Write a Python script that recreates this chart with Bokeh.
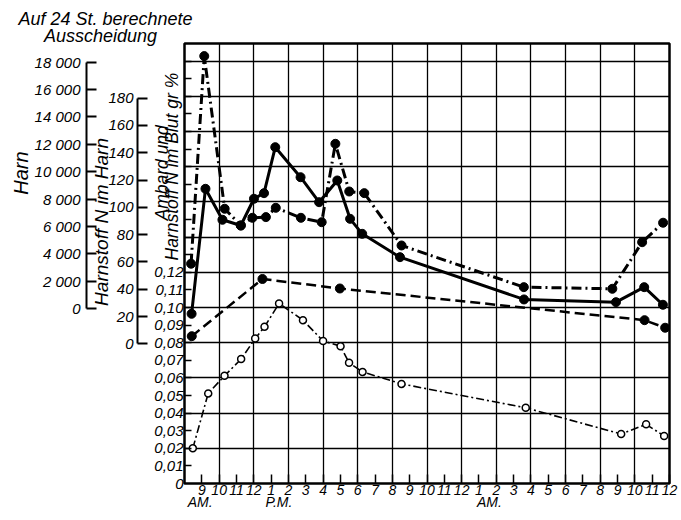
from bokeh.plotting import figure
from bokeh.models import Range1d, LinearAxis, FixedTicker, Title
from bokeh.embed import file_html
from bokeh.resources import INLINE

# ---------------- data ----------------
# time axis: hours counted from midnight of the first day (8 = 8 AM, 36 = noon next day)
harn_hours = [8.38, 9.14, 10.32, 11.25, 11.92, 12.70, 13.27, 14.72, 15.92, 16.71,
              17.51, 18.38, 20.53, 27.59, 32.70, 34.42, 35.63]
harn_values = [3290, 18440, 7300, 6080, 6640, 6690, 7370, 6640, 6320, 12040,
               8560, 8440, 4620, 1580, 1460, 4860, 6280]

harnstoff_hours = [8.41, 9.21, 10.19, 11.25, 12.01, 12.59, 13.24, 14.70, 15.77, 16.82,
                   17.56, 18.26, 20.44, 27.60, 32.91, 34.54, 35.62]
harnstoff_values = [22.0, 113.6, 90.9, 86.7, 106.3, 110.4, 144.1, 122.1, 103.8, 119.7,
                    91.6, 80.6, 63.5, 32.5, 30.5, 41.5, 28.6]

blut_hours = [8.42, 12.50, 16.97, 34.56, 35.75]
blut_values = [0.0837, 0.1162, 0.1108, 0.0928, 0.0885]

ambard_hours = [8.48, 9.37, 10.31, 11.27, 12.08, 12.62, 13.46, 14.84, 16.00, 17.01,
                17.50, 18.28, 20.53, 27.70, 33.21, 34.65, 35.69]
ambard_values = [0.0200, 0.0512, 0.0612, 0.0707, 0.0824, 0.0890, 0.1023, 0.0928, 0.0810, 0.0780,
                 0.0686, 0.0634, 0.0566, 0.0430, 0.0281, 0.0336, 0.0270]

hour_ticks = list(range(9, 37))
hour_labels = ["9", "10", "11", "12", "1", "2", "3", "4", "5", "6", "7", "8", "9", "10",
               "11", "12", "1", "2", "3", "4", "5", "6", "7", "8", "9", "10", "11", "12"]
period_ticks = [8.9, 13.45, 25.6]
period_labels = ["AM.", "P.M.", "AM."]
grid_hours = list(range(10, 35, 2))

harn_ticks = list(range(0, 18001, 2000))
harn_labels = ["0", "2 000", "4 000", "6 000", "8 000", "10 000", "12 000",
               "14 000", "16 000", "18 000"]
harnstoff_ticks = list(range(0, 181, 20))
harnstoff_labels = ["0", "20", "40", "60", "80", "100", "120", "140", "160", "180"]
blut_ticks = [0.0, 0.01, 0.02, 0.03, 0.04, 0.05, 0.06, 0.07, 0.08, 0.09, 0.10, 0.11, 0.12]
blut_labels = ["0", "0,01", "0,02", "0,03", "0,04", "0,05", "0,06", "0,07", "0,08",
               "0,09", "0,10", "0,11", "0,12"]
frame_ticks = [0.01, 0.02, 0.03, 0.04, 0.05, 0.06, 0.07, 0.08, 0.09, 0.10, 0.11, 0.12,
               0.13, 0.14, 0.15, 0.16, 0.17, 0.18, 0.19, 0.20, 0.21, 0.22, 0.23, 0.24]
grid_blut = [0.02, 0.04, 0.06, 0.08, 0.10, 0.12, 0.14, 0.16, 0.18, 0.20, 0.22, 0.24]

# ---------------- figure ----------------
FONT = "Liberation Sans"
p = figure(width=681, height=520, x_range=Range1d(8, 36), y_range=Range1d(0, 0.25),
           output_backend="svg", toolbar_location=None, title_location=None,
           x_axis_location=None, y_axis_location=None,
           min_border_left=184, min_border_right=12, min_border_top=43, min_border_bottom=37)
p.background_fill_color = "white"
p.border_fill_color = "white"
p.outline_line_color = "black"
p.outline_line_width = 2.5

p.extra_y_ranges = {"harn": Range1d(-12750, 19360), "harnstoff": Range1d(-102.4, 220.1)}

p.xgrid.ticker = FixedTicker(ticks=grid_hours)
p.ygrid.ticker = FixedTicker(ticks=grid_blut)
for g in (p.xgrid, p.ygrid):
    g.grid_line_color = "black"
    g.grid_line_width = 1.3


def style_labels(ax, size="15px"):
    ax.major_label_text_font = FONT
    ax.major_label_text_font_style = "italic"
    ax.major_label_text_font_size = size
    ax.major_label_text_color = "black"


def side_title(text, size, offset, standoff, place, valign="bottom"):
    t = Title(text=text, align="left", vertical_align=valign, offset=offset,
              standoff=standoff, text_font=FONT, text_font_style="italic",
              text_font_size=size, text_color="black")
    p.add_layout(t, place)


# --- left side, from the frame outwards ---
# small inward ticks on the left frame edge
frame_tick_axis = LinearAxis(ticker=FixedTicker(ticks=frame_ticks), axis_line_color=None,
                             major_tick_in=7, major_tick_out=0, minor_tick_in=0, minor_tick_out=0,
                             major_tick_line_width=1.5, major_label_text_color=None,
                             major_label_standoff=0)
p.add_layout(frame_tick_axis, "left")

# two-line title of the blood scale
side_title("Harnstoff N im Blut gr %", "17.5px", 223, -0.4, "left", valign="top")
side_title("Ambard und", "17.5px", 263, -18.6, "left")

# blood scale labels
blut_axis = LinearAxis(ticker=FixedTicker(ticks=blut_ticks),
                       major_label_overrides=dict(zip(blut_ticks, blut_labels)),
                       axis_line_color=None, major_tick_line_color=None,
                       major_tick_in=0, major_tick_out=0, minor_tick_in=0, minor_tick_out=0,
                       major_label_standoff=-24,
                       axis_label=" ", axis_label_standoff=10, axis_label_text_font_size="1px")
style_labels(blut_axis)
p.add_layout(blut_axis, "left")

harnstoff_axis = LinearAxis(y_range_name="harnstoff", ticker=FixedTicker(ticks=harnstoff_ticks),
                            major_label_overrides=dict(zip(harnstoff_ticks, harnstoff_labels)),
                            bounds=(0, 180), axis_line_width=2, axis_line_color="black",
                            major_tick_in=10, major_tick_out=0, minor_tick_in=0, minor_tick_out=0,
                            major_tick_line_width=2, major_label_standoff=4)
style_labels(harnstoff_axis)
p.add_layout(harnstoff_axis, "left")

side_title("Harnstoff N im Harn", "19px", 177.6, -12.4, "left")

gap_axis = LinearAxis(ticker=FixedTicker(ticks=[]), axis_line_color=None,
                      major_tick_line_color=None, major_tick_in=0, major_tick_out=0,
                      minor_tick_in=0, minor_tick_out=0, major_label_text_color=None,
                      axis_label=" ", axis_label_standoff=4, axis_label_text_font_size="1px")
p.add_layout(gap_axis, "left")

harn_axis = LinearAxis(y_range_name="harn", ticker=FixedTicker(ticks=harn_ticks),
                       major_label_overrides=dict(zip(harn_ticks, harn_labels)),
                       bounds=(0, 18000), axis_line_width=2, axis_line_color="black",
                       major_tick_in=10, major_tick_out=0, minor_tick_in=0, minor_tick_out=0,
                       major_tick_line_width=2, major_label_standoff=6)
style_labels(harn_axis)
p.add_layout(harn_axis, "left")

side_title("Harn", "20px", 288.8, -1, "left")

# --- top title, two lines ---
side_title("Ausscheidung", "18px", -140.5, -5.6, "above")
side_title("Auf 24 St. berechnete", "18px", -166, -3.6, "above")

# --- bottom axes ---
x_axis = LinearAxis(ticker=FixedTicker(ticks=hour_ticks),
                    major_label_overrides=dict(zip(hour_ticks, hour_labels)),
                    axis_line_color=None, major_tick_in=9, major_tick_out=0,
                    minor_tick_in=0, minor_tick_out=0, major_tick_line_width=1.5,
                    major_label_standoff=1)
style_labels(x_axis, "14px")
p.add_layout(x_axis, "below")

period_axis = LinearAxis(ticker=FixedTicker(ticks=period_ticks),
                         major_label_overrides=dict(zip(period_ticks, period_labels)),
                         axis_line_color=None, major_tick_line_color=None,
                         major_tick_in=0, major_tick_out=0, minor_tick_in=0, minor_tick_out=0,
                         major_label_standoff=-4)
style_labels(period_axis, "14px")
p.add_layout(period_axis, "below")

# ---------------- series ----------------
p.line(harn_hours, harn_values, y_range_name="harn", line_color="black", line_width=3,
       line_dash="10 4 2 4", line_join="round")
p.scatter(harn_hours, harn_values, y_range_name="harn", size=9, color="black")

p.line(harnstoff_hours, harnstoff_values, y_range_name="harnstoff", line_color="black",
       line_width=3, line_join="round")
p.scatter(harnstoff_hours, harnstoff_values, y_range_name="harnstoff", size=9, color="black")

p.line(blut_hours, blut_values, line_color="black", line_width=2.5, line_dash="10 5")
p.scatter(blut_hours, blut_values, size=9, color="black")

p.line(ambard_hours, ambard_values, line_color="black", line_width=1.6, line_dash="8 3 2 3")
p.scatter(ambard_hours, ambard_values, size=7, line_color="black", line_width=1.5,
          fill_color="white")

open("out.html", "w").write(file_html(p, INLINE))
